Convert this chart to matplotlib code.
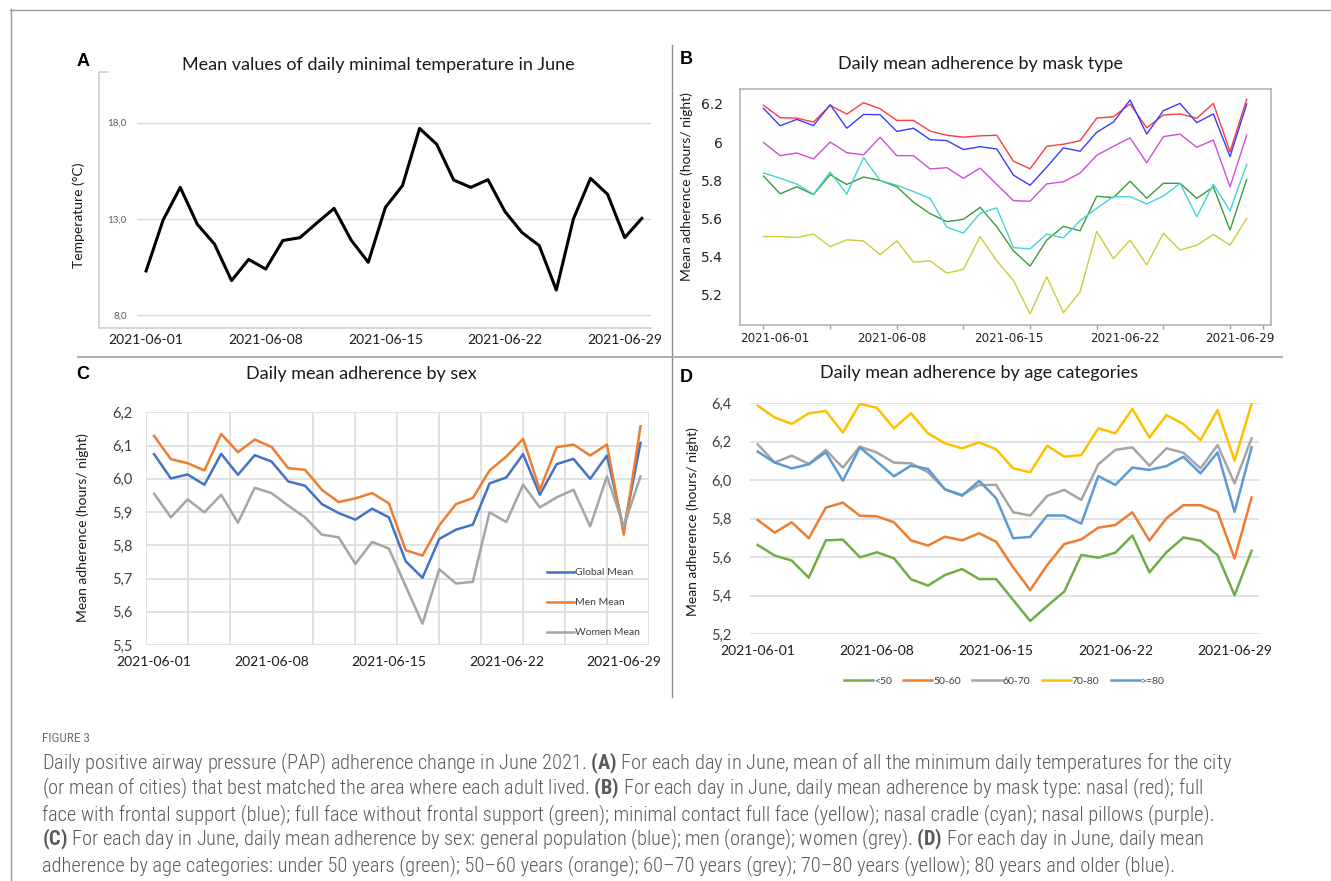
import matplotlib
matplotlib.use("Agg")
import matplotlib.pyplot as plt
from matplotlib import font_manager
from matplotlib.lines import Line2D
import numpy as np

W, H = 1331, 881

days = list(range(1, 31))
date_labels = ["2021-06-01", "2021-06-08", "2021-06-15", "2021-06-22", "2021-06-29"]
label_days = [1, 8, 15, 22, 29]

# A - mean of daily minimal temperature
temp_min = [10.3, 12.95, 14.64, 12.72, 11.7, 9.8, 10.9, 10.4, 11.88, 12.03,
            12.8, 13.55, 11.9, 10.75, 13.6, 14.73, 17.7, 16.88, 15.02, 14.64,
            15.04, 13.38, 12.29, 11.62, 9.31, 13.0, 15.11, 14.28, 12.03, 13.03]
temp_ticks = [8, 13, 18]
temp_tick_labels = ["8,0", "13,0", "18,0"]

# B - by mask type
nasal = [6.193, 6.128, 6.126, 6.105, 6.193, 6.147, 6.207, 6.175, 6.114, 6.114,
         6.058, 6.036, 6.026, 6.033, 6.036, 5.90, 5.86, 5.978, 5.989, 6.007,
         6.126, 6.133, 6.20, 6.075, 6.142, 6.148, 6.125, 6.203, 5.95, 6.225]
full_frontal = [6.177, 6.086, 6.119, 6.087, 6.196, 6.073, 6.145, 6.144, 6.056, 6.073,
                6.013, 6.008, 5.961, 5.976, 5.964, 5.827, 5.774, 5.869, 5.97, 5.952,
                6.052, 6.105, 6.221, 6.042, 6.165, 6.203, 6.102, 6.148, 5.924, 6.20]
nasal_pillows = [5.998, 5.929, 5.943, 5.912, 6.0, 5.945, 5.933, 6.026, 5.929, 5.929,
                 5.859, 5.866, 5.81, 5.864, 5.778, 5.693, 5.69, 5.781, 5.792, 5.838,
                 5.931, 5.978, 6.022, 5.892, 6.029, 6.042, 5.973, 6.011, 5.766, 6.037]
full_no_frontal = [5.822, 5.729, 5.766, 5.725, 5.829, 5.778, 5.817, 5.799, 5.766, 5.685,
                   5.625, 5.583, 5.595, 5.658, 5.556, 5.43, 5.35, 5.486, 5.558, 5.535,
                   5.716, 5.709, 5.795, 5.706, 5.784, 5.784, 5.705, 5.765, 5.539, 5.805]
nasal_cradle = [5.838, 5.811, 5.78, 5.727, 5.843, 5.727, 5.919, 5.799, 5.774, 5.741,
                5.705, 5.554, 5.523, 5.627, 5.655, 5.447, 5.44, 5.518, 5.498, 5.588,
                5.653, 5.714, 5.714, 5.676, 5.717, 5.784, 5.609, 5.779, 5.64, 5.885]
minimal_contact = [5.505, 5.505, 5.50, 5.518, 5.452, 5.488, 5.482, 5.41, 5.482, 5.371,
                   5.377, 5.313, 5.333, 5.505, 5.377, 5.275, 5.099, 5.294, 5.105, 5.215,
                   5.532, 5.389, 5.486, 5.356, 5.522, 5.434, 5.459, 5.516, 5.46, 5.60]
mask_ticks = [5.2, 5.4, 5.6, 5.8, 6.0, 6.2]
mask_tick_labels = ["5.2", "5.4", "5.6", "5.8", "6", "6.2"]
mask_tick_days = [1, 5, 9, 13, 17, 21, 25, 29, 31]
mask_label_days = [1.7, 8.7, 15.7, 22.7, 29.6]

# C - by sex
global_mean = [6.074, 6.001, 6.013, 5.982, 6.075, 6.012, 6.071, 6.052, 5.992, 5.979,
               5.924, 5.897, 5.877, 5.91, 5.884, 5.752, 5.702, 5.819, 5.847, 5.862,
               5.986, 6.004, 6.074, 5.952, 6.044, 6.06, 6.0, 6.07, 5.847, 6.108]
men_mean = [6.129, 6.059, 6.047, 6.025, 6.135, 6.08, 6.118, 6.096, 6.032, 6.027,
            5.967, 5.93, 5.941, 5.957, 5.926, 5.785, 5.769, 5.86, 5.924, 5.942,
            6.025, 6.067, 6.12, 5.967, 6.095, 6.103, 6.07, 6.103, 5.832, 6.158]
women_mean = [5.955, 5.884, 5.938, 5.899, 5.952, 5.868, 5.973, 5.957, 5.919, 5.884,
              5.832, 5.824, 5.744, 5.81, 5.79, 5.677, 5.564, 5.728, 5.685, 5.69,
              5.899, 5.87, 5.982, 5.914, 5.944, 5.967, 5.857, 6.007, 5.857, 6.007]
sex_ticks = [5.5, 5.6, 5.7, 5.8, 5.9, 6.0, 6.1, 6.2]
sex_tick_labels = ["5,5", "5,6", "5,7", "5,8", "5,9", "6,0", "6,1", "6,2"]

# D - by age category
age_lt50 = [5.664, 5.609, 5.583, 5.494, 5.688, 5.692, 5.6, 5.626, 5.595, 5.486,
            5.453, 5.508, 5.539, 5.487, 5.487, 5.378, 5.269, 5.347, 5.422, 5.612,
            5.598, 5.624, 5.713, 5.522, 5.626, 5.703, 5.686, 5.611, 5.403, 5.634]
age_50_60 = [5.794, 5.728, 5.782, 5.699, 5.858, 5.884, 5.816, 5.813, 5.782, 5.688,
             5.661, 5.707, 5.688, 5.725, 5.681, 5.548, 5.43, 5.56, 5.669, 5.693,
             5.754, 5.768, 5.834, 5.687, 5.803, 5.871, 5.871, 5.836, 5.594, 5.911]
age_60_70 = [6.187, 6.092, 6.128, 6.085, 6.158, 6.066, 6.175, 6.144, 6.092, 6.088,
             6.042, 5.953, 5.924, 5.976, 5.976, 5.834, 5.817, 5.919, 5.95, 5.898,
             6.083, 6.158, 6.171, 6.076, 6.166, 6.143, 6.062, 6.183, 5.984, 6.218]
age_70_80 = [6.388, 6.326, 6.293, 6.348, 6.36, 6.248, 6.397, 6.377, 6.27, 6.348,
             6.244, 6.192, 6.166, 6.197, 6.161, 6.062, 6.042, 6.18, 6.123, 6.131,
             6.27, 6.244, 6.371, 6.222, 6.339, 6.292, 6.209, 6.365, 6.102, 6.397]
age_ge80 = [6.149, 6.092, 6.062, 6.083, 6.145, 5.998, 6.171, 6.097, 6.021, 6.076,
            6.059, 5.953, 5.92, 5.997, 5.907, 5.699, 5.706, 5.817, 5.817, 5.775,
            6.022, 5.976, 6.066, 6.054, 6.074, 6.122, 6.036, 6.145, 5.836, 6.171]
age_ticks = [5.2, 5.4, 5.6, 5.8, 6.0, 6.2, 6.4]
age_tick_labels = ["5,2", "5,4", "5,6", "5,8", "6,0", "6,2", "6,4"]

caption_lines = [
    r"Daily positive airway pressure (PAP) adherence change in June 2021. $\mathbf{(A)}$ For each day in June, mean of all the minimum daily temperatures for the city",
    r"(or mean of cities) that best matched the area where each adult lived. $\mathbf{(B)}$ For each day in June, daily mean adherence by mask type: nasal (red); full",
    r"face with frontal support (blue); full face without frontal support (green); minimal contact full face (yellow); nasal cradle (cyan); nasal pillows (purple).",
    r"$\mathbf{(C)}$ For each day in June, daily mean adherence by sex: general population (blue); men (orange); women (grey). $\mathbf{(D)}$ For each day in June, daily mean",
    r"adherence by age categories: under 50 years (green); 50–60 years (orange); 60–70 years (grey); 70–80 years (yellow); 80 years and older (blue).",
]

installed = {f.name for f in font_manager.fontManager.ttflist}
cap_font = "Liberation Sans"
for name in ["Liberation Sans Narrow", "DejaVu Sans Condensed", "Roboto Condensed"]:
    if name in installed:
        cap_font = name
        break

plt.rcParams["font.family"] = ["Lato", "DejaVu Sans"]
plt.rcParams["mathtext.fontset"] = "custom"
plt.rcParams["mathtext.rm"] = cap_font
plt.rcParams["mathtext.bf"] = cap_font + ":bold"

fig = plt.figure(figsize=(W / 100, H / 100), dpi=100)


def px_axes(x0, y0, x1, y1):
    return fig.add_axes([x0 / W, 1 - y1 / H, (x1 - x0) / W, (y1 - y0) / H])


def px_line(xs, ys, color, lw):
    fig.add_artist(Line2D([x / W for x in xs], [1 - y / H for y in ys],
                          transform=fig.transFigure, color=color, lw=lw))


def px_text(x, y, s, **kw):
    return fig.text(x / W, 1 - y / H, s, **kw)


title_kw = dict(fontsize=13, color="#1a1a1a", ha="center", va="center")
letter_kw = dict(fontsize=13, fontweight="bold", family="Liberation Sans",
                 color="black", ha="center", va="center")
ylab_kw = dict(fontsize=10, color="#1a1a1a", rotation=90, ha="center", va="center")

# frame and dividers
px_line([10, W], [9.5, 9.5], "#9a9a9a", 1.0)
px_line([10.5, 10.5], [9, H], "#9a9a9a", 1.0)
px_line([672, 672], [45, 697], "#8c8c8c", 1.0)
px_line([78, 1282], [357, 357], "#b0b0b0", 1.5)

# ---- A ----
axA = px_axes(136.5, 72, 651, 328)
axA.plot(days, temp_min, color="black", lw=2.2)
axA.set_xlim(0.44, 30.54)
axA.set_ylim(7.34, 20.63)
axA.set_yticks(temp_ticks, temp_tick_labels)
axA.set_xticks(label_days, date_labels)
axA.grid(axis="y", color="#d9d9d9", lw=1)
for s in axA.spines.values():
    s.set_visible(False)
axA.tick_params(axis="y", length=0, pad=7, labelsize=7, labelcolor="#595959")
axA.tick_params(axis="x", length=0, pad=4, labelsize=10, labelcolor="#1a1a1a")
px_line([98.5, 98.5, 108], [328, 72, 72], "#d0d0d0", 1.2)
px_line([98.5, 651], [328, 328], "#d0d0d0", 1.2)
px_text(378, 65, "Mean values of daily minimal temperature in June", **title_kw)
px_text(83, 61, "A", **letter_kw)
px_text(79, 215, "Temperature (°C)", **ylab_kw)

# ---- B ----
axB = px_axes(739.5, 89.3, 1270.7, 325)
mask_series = [(nasal, "#ff3b3b"), (full_frontal, "#3b3bff"), (nasal_pillows, "#cc4fd6"),
               (full_no_frontal, "#3c9a3c"), (nasal_cradle, "#45d3d3"),
               (minimal_contact, "#cccc3a")]
for vals, col in mask_series:
    axB.plot(days, vals, color=col, lw=1.0)
axB.set_xlim(-0.44, 31.44)
axB.set_ylim(5.041, 6.277)
axB.set_yticks(mask_ticks, mask_tick_labels, family="DejaVu Sans")
axB.set_xticks(mask_label_days, date_labels, family="DejaVu Sans")
axB.set_xticks(mask_tick_days, minor=True)
for s in axB.spines.values():
    s.set_color("#b5b5b5")
    s.set_linewidth(1.2)
axB.tick_params(axis="y", length=0, pad=12, labelsize=10, labelcolor="#222222")
axB.tick_params(axis="x", which="major", length=0, pad=5, labelsize=8.6, labelcolor="#222222")
axB.tick_params(axis="x", which="minor", length=3, width=1, color="#9a9a9a")
px_text(981, 64, "Daily mean adherence by mask type", **title_kw)
px_text(686, 60, "B", **letter_kw)
px_text(687, 187, "Mean adherence (hours/ night)", **ylab_kw)

# ---- C ----
axC = px_axes(145.7, 412.3, 648.9, 645)
axC.plot(days, global_mean, color="#4472C4", lw=1.8, label="Global Mean")
axC.plot(days, men_mean, color="#ED7D31", lw=1.8, label="Men Mean")
axC.plot(days, women_mean, color="#A5A5A5", lw=1.8, label="Women Mean")
axC.set_xlim(0.5, 30.5)
axC.set_ylim(5.5, 6.2)
axC.set_yticks(sex_ticks, sex_tick_labels)
axC.set_xticks(label_days, date_labels)
axC.set_xticks(np.arange(0.5, 30.6, 2.5), minor=True)
axC.grid(axis="y", which="major", color="#d9d9d9", lw=1.1)
axC.grid(axis="x", which="minor", color="#d9d9d9", lw=1.1)
for s in axC.spines.values():
    s.set_visible(False)
axC.tick_params(axis="both", which="both", length=0)
axC.tick_params(axis="y", pad=9.5, labelsize=10.5, labelcolor="#404040")
axC.tick_params(axis="x", pad=8, labelsize=10, labelcolor="#1a1a1a")
axC.legend(loc="center left", bbox_to_anchor=(0.797, 0.182), frameon=False,
           fontsize=7.5, handlelength=2.6, handletextpad=0.15, labelspacing=2.0,
           borderpad=0, borderaxespad=0, labelcolor="#404040")
px_text(361, 374, "Daily mean adherence by sex", **title_kw)
px_text(83, 375, "C", **letter_kw)
px_text(83, 528, "Mean adherence (hours/ night)", **ylab_kw)

# ---- D ----
axD = px_axes(750, 403.3, 1258.6, 634.3)
age_series = [(age_lt50, "#70AD47", "<50"), (age_50_60, "#ED7D31", "50-60"),
              (age_60_70, "#A5A5A5", "60-70"), (age_70_80, "#FFC000", "70-80"),
              (age_ge80, "#5B9BD5", ">=80")]
for vals, col, lab in age_series:
    axD.plot(days, vals, color=col, lw=1.8, label=lab)
axD.set_xlim(0.55, 30.41)
axD.set_ylim(5.2, 6.4)
axD.set_yticks(age_ticks, age_tick_labels)
axD.set_xticks(label_days, date_labels)
axD.grid(axis="y", color="#d9d9d9", lw=1.1)
for s in axD.spines.values():
    s.set_visible(False)
axD.tick_params(axis="both", length=0)
axD.tick_params(axis="y", pad=13, labelsize=10.5, labelcolor="#404040")
axD.tick_params(axis="x", pad=8, labelsize=10, labelcolor="#1a1a1a")
axD.legend(loc="center", bbox_to_anchor=(0.5, -0.202), ncol=5, frameon=False,
           fontsize=7.5, handlelength=2.8, handletextpad=0.1, columnspacing=1.1,
           borderpad=0, borderaxespad=0, labelcolor="#404040")
px_text(979, 373, "Daily mean adherence by age categories", **title_kw)
px_text(686, 377, "D", **letter_kw)
px_text(693, 522, "Mean adherence (hours/ night)", **ylab_kw)

# ---- caption ----
px_text(42, 738, "FIGURE 3", fontsize=9.5, color="#707070", family=cap_font,
        ha="left", va="center")
cap_texts = []
for i, line in enumerate(caption_lines):
    cap_texts.append(px_text(42, 763 + i * 25.6, line, fontsize=12, color="#5a5a5a",
                             family=cap_font, fontweight="light",
                             ha="left", va="center"))
# scale the caption so the first line spans about the same width as in the figure
renderer = fig.canvas.get_renderer()
first_w = cap_texts[0].get_window_extent(renderer=renderer).width
scale = 1190 / first_w
for t in cap_texts:
    t.set_fontsize(t.get_fontsize() * scale)

fig.savefig("out.png", dpi=100)
